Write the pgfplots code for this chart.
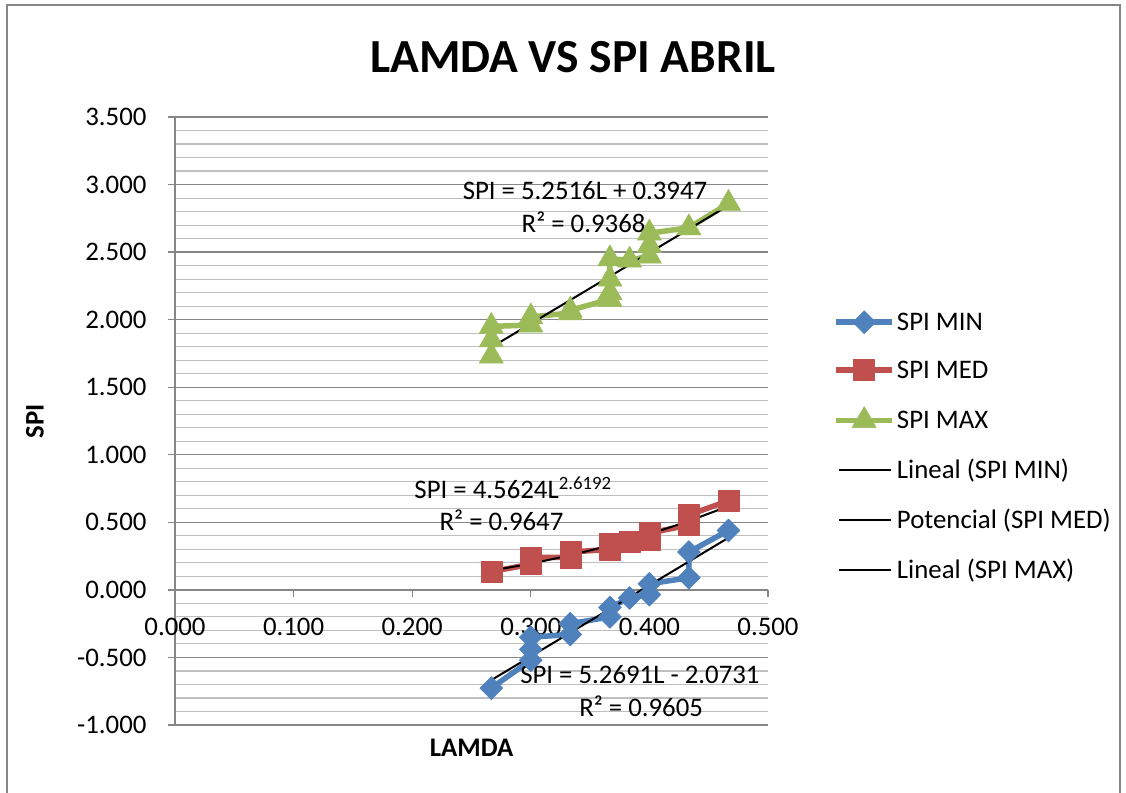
\documentclass[border=0pt]{standalone}
\usepackage{pgfplots}
\pgfplotsset{compat=1.18}
\usepackage{fontspec}
\setmainfont{Carlito}
\definecolor{cblue}{HTML}{4F81BD}
\definecolor{cred}{HTML}{C0504D}
\definecolor{cgreen}{HTML}{9BBB59}
\definecolor{majgray}{HTML}{868686}
\definecolor{mingray}{HTML}{BFBFBF}
\newcommand{\tf}{\fontsize{26.8bp}{32bp}\selectfont}
\begin{document}
\begin{tikzpicture}
\useasboundingbox (0,0) rectangle (1126bp,793bp);
\draw[majgray, line width=1.5bp] (7bp,-5bp) -- (7bp,788bp) -- (1120bp,788bp) -- (1120bp,-5bp);
\node[font=\fontsize{47.5bp}{57bp}\selectfont\bfseries] at (573bp,736bp) {LAMDA VS SPI ABRIL};
\begin{axis}[
  at={(175bp,68bp)}, anchor=south west,
  scale only axis, width=593bp, height=608bp,
  xmin=0, xmax=0.5, ymin=-1, ymax=3.5,
  enlargelimits=false,
  axis x line=middle, axis y line=left,
  axis line style={-, draw=majgray, line width=1.3bp},
  hide obscured x ticks=false, hide obscured y ticks=false,
  xtick={0,0.1,0.2,0.3,0.4,0.5},
  ytick={-1,-0.5,0,0.5,1,1.5,2,2.5,3,3.5},
  minor y tick num=4,
  tick align=outside,
  major tick length=7bp, minor tick length=0pt,
  every tick/.style={draw=majgray, line width=1.3bp},
  ymajorgrids, yminorgrids,
  major grid style={draw=majgray, line width=1.3bp},
  minor grid style={draw=mingray, line width=1.1bp},
  tick label style={font=\tf},
  yticklabel style={xshift=-18bp},
  xticklabel style={yshift=-18bp},
  /pgf/number format/.cd, fixed, fixed zerofill, precision=3, use period, 1000 sep={}, assume math mode=true,
  /pgfplots/.cd,
  xlabel={\textbf{LAMDA}}, ylabel={\textbf{SPI}},
  every axis x label/.style={at={(rel axis cs:0.5,0)}, yshift=-23bp, anchor=center, font=\tf},
  every axis y label/.style={at={(rel axis cs:0,0.5)}, xshift=-140bp, rotate=90, anchor=center, font=\tf},
  legend style={at={(rel axis cs:1.105,0.685)}, anchor=north west, draw=none, fill=none, font=\tf, row sep=25bp},
  legend cell align=left,
  clip=false,
]
\addplot[color=cblue, line width=5.5bp, line join=round, mark=diamond*, mark size=11.5bp, mark options={solid, fill=cblue, line width=0.5bp, xscale=1.33},
  legend image code/.code={\draw[mark repeat=2,mark phase=2] plot coordinates {(0bp,0bp)(28bp,0bp)(56bp,0bp)};}]
coordinates {
(0.2667,-0.727)(0.3,-0.52)(0.3,-0.44)(0.3,-0.35)(0.3333,-0.33)(0.3333,-0.25)
(0.3667,-0.20)(0.3667,-0.13)(0.3833,-0.06)(0.4,-0.035)(0.4,0.045)
(0.4333,0.09)(0.4333,0.28)(0.4667,0.44)};
\addlegendentry{SPI MIN}
\addplot[color=cred, line width=5.5bp, line join=round, mark=square*, mark size=10.5bp, mark options={solid, fill=cred, line width=0.5bp},
  legend image code/.code={\draw[mark repeat=2,mark phase=2] plot coordinates {(0bp,0bp)(28bp,0bp)(56bp,0bp)};}]
coordinates {
(0.2667,0.135)(0.3,0.19)(0.3,0.24)(0.3333,0.24)(0.3333,0.28)
(0.3667,0.30)(0.3667,0.34)(0.3833,0.355)(0.4,0.37)(0.4,0.42)
(0.4333,0.48)(0.4333,0.555)(0.4667,0.66)};
\addlegendentry{SPI MED}
\addplot[color=cgreen, line width=5.5bp, line join=round, mark=triangle*, mark size=14bp, mark options={solid, fill=cgreen, line width=0.5bp},
  legend image code/.code={\draw[mark repeat=2,mark phase=2] plot coordinates {(0bp,0bp)(28bp,0bp)(56bp,0bp)};}]
coordinates {
(0.2667,1.73)(0.2667,1.85)(0.2667,1.95)(0.3,1.96)(0.3,2.02)
(0.3333,2.05)(0.3333,2.07)(0.3667,2.15)(0.3667,2.20)(0.3667,2.30)(0.3667,2.45)
(0.3833,2.44)(0.4,2.47)(0.4,2.55)(0.4,2.64)(0.4333,2.68)(0.4667,2.86)};
\addlegendentry{SPI MAX}
\addplot[black, line width=2bp, no marks,
  legend image code/.code={\draw plot coordinates {(3bp,0bp)(55bp,0bp)};}]
coordinates {(0.2667,-0.6678)(0.4667,0.3860)};
\addlegendentry{Lineal (SPI MIN)}
\addplot[black, line width=2bp, no marks, smooth,
  legend image code/.code={\draw[sharp plot] plot coordinates {(3bp,0bp)(55bp,0bp)};}]
coordinates {(0.2667,0.1431)(0.3,0.1949)(0.3333,0.2568)(0.3667,0.3296)(0.4,0.4139)(0.4333,0.5105)(0.4667,0.620)};
\addlegendentry{Potencial (SPI MED)}
\addplot[black, line width=2bp, no marks,
  legend image code/.code={\draw plot coordinates {(3bp,0bp)(55bp,0bp)};}]
coordinates {(0.2667,1.7953)(0.4667,2.8456)};
\addlegendentry{Lineal (SPI MAX)}
\node[font=\tf] at (axis cs:0.3457,2.953) {SPI = 5.2516L + 0.3947};
\node[font=\tf] at (axis cs:0.3445,2.724) {R² = 0.9368};
\node[font=\tf] at (axis cs:0.285,0.755) {SPI = 4.5624L\textsuperscript{2.6192}};
\node[font=\tf] at (axis cs:0.2753,0.518) {R² = 0.9647};
\node[font=\tf] at (axis cs:0.392,-0.629) {SPI = 5.2691L - 2.0731};
\node[font=\tf] at (axis cs:0.393,-0.859) {R² = 0.9605};
\end{axis}
\end{tikzpicture}
\end{document}
